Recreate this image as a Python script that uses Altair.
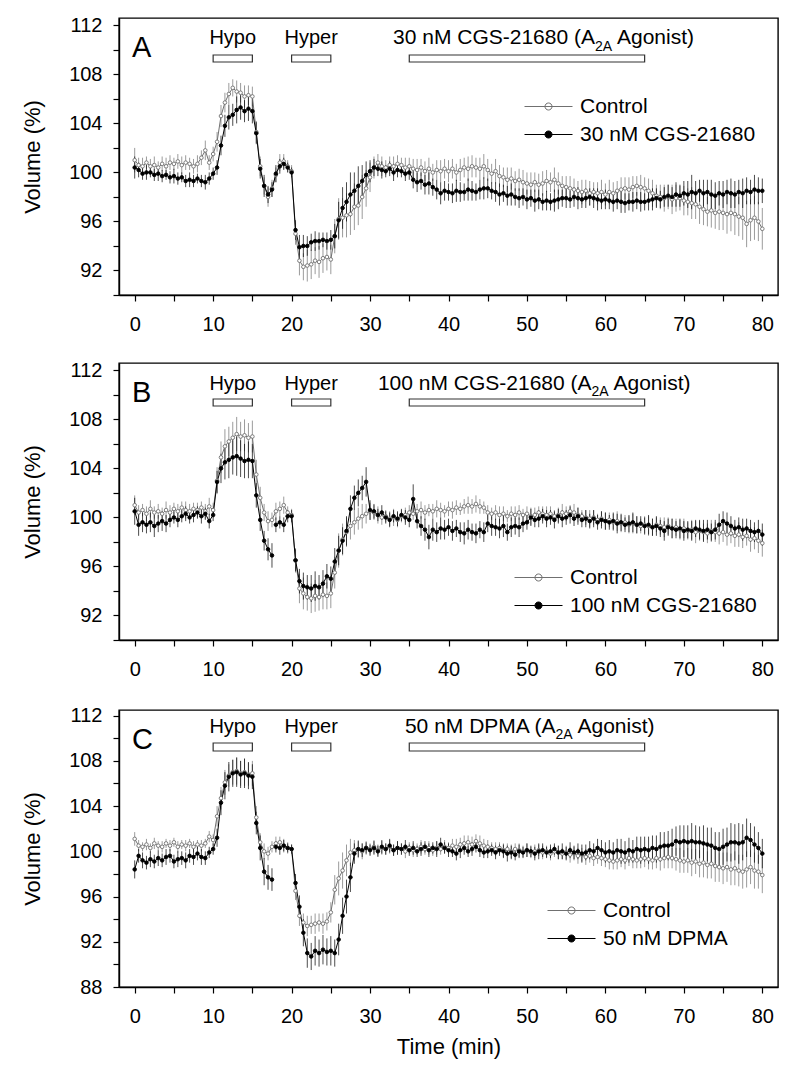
import altair as alt
import pandas as pd

FONT = "Liberation Sans"

# sampling grid (min)
TIME = [i * 0.5 for i in range(161)]

# ---------------- Panel A ----------------
ctlA = [101.0,100.6,100.5,100.8,100.5,100.6,100.4,100.7,100.5,100.8,
        100.7,100.9,100.6,100.8,100.7,100.5,100.7,101.2,101.8,100.8,
        101.5,102.5,104.6,105.7,106.4,106.9,106.6,106.5,106.2,106.3,
        106.2,103.3,100.5,98.9,98.0,98.7,99.8,100.8,100.9,100.5,
        100.1,95.0,92.8,92.3,92.4,92.5,92.8,92.7,93.0,93.1,
        92.9,94.8,96.2,96.3,96.5,96.6,97.2,97.3,98.0,98.7,
        99.6,100.4,100.8,100.5,100.4,100.6,100.5,100.7,100.6,100.4,
        100.5,100.3,100.2,100.4,100.1,100.3,100.0,100.2,100.1,100.3,
        100.1,100.3,100.0,100.2,100.4,100.3,100.5,100.4,100.3,100.5,
        100.2,99.9,100.1,99.7,99.6,99.4,99.5,99.3,99.4,99.2,
        99.1,99.0,99.2,99.0,99.1,99.3,99.2,99.4,99.1,98.9,
        98.8,98.7,98.6,98.5,98.4,98.5,98.3,98.4,98.3,98.4,
        98.2,98.4,98.3,98.5,98.6,98.7,98.6,98.8,98.9,98.8,
        98.7,98.5,98.3,98.1,98.0,97.9,98.0,97.8,97.9,97.9,
        97.7,97.6,97.5,97.4,97.2,97.0,96.8,96.9,96.7,96.8,
        96.7,96.6,96.7,96.6,96.4,96.3,95.8,96.1,96.3,96.0,
        95.4]
trtA = [100.4,100.2,99.9,100.0,100.0,99.8,99.9,99.7,99.8,99.6,
        99.7,99.5,99.6,99.3,99.4,99.3,99.5,99.3,99.2,99.5,
        99.9,100.4,102.2,103.8,104.5,104.7,105.1,105.3,105.0,105.2,
        105.0,103.2,100.3,98.9,98.2,98.6,99.9,100.5,100.7,100.4,
        100.0,95.3,93.9,94.0,94.0,94.3,94.4,94.4,94.5,94.4,
        94.5,94.8,96.1,97.1,97.6,98.2,98.5,98.9,99.3,99.8,
        100.1,100.4,100.3,100.2,100.1,100.3,100.0,100.2,100.1,99.9,
        100.0,99.4,99.2,99.3,99.0,99.1,98.8,98.6,98.3,98.5,
        98.4,98.3,98.5,98.4,98.4,98.6,98.5,98.4,98.6,98.7,
        98.7,98.5,98.4,98.2,98.3,98.1,98.2,98.0,97.9,98.0,
        97.8,97.9,97.7,97.8,97.6,97.7,97.6,97.7,97.8,97.9,
        97.9,97.8,98.0,97.9,97.8,97.9,98.0,97.9,97.8,97.7,
        97.8,97.7,97.6,97.7,97.6,97.5,97.6,97.6,97.7,97.6,
        97.6,97.7,97.8,97.9,97.8,98.0,98.1,98.0,98.2,98.1,
        98.3,98.2,98.4,98.3,98.5,98.3,98.4,98.2,98.1,98.3,
        98.2,98.4,98.3,98.2,98.4,98.3,98.5,98.4,98.6,98.5,
        98.5]
errCtlA = [1.0,0.6,0.7,0.5,0.6,0.7,0.5,0.6,0.7,0.6,
           0.5,0.6,0.7,0.6,0.5,0.6,0.7,0.6,0.8,0.6,
           0.6,0.8,0.9,0.8,0.9,0.7,0.9,0.8,0.9,0.8,
           0.8,0.9,0.8,0.7,0.8,0.7,0.6,0.7,0.6,0.5,
           0.5,0.9,1.2,1.1,1.3,1.2,1.1,1.3,1.2,1.1,
           1.2,1.4,1.7,1.6,1.8,1.7,1.9,1.6,1.8,1.5,
           1.2,0.9,0.7,0.8,0.6,0.7,0.8,0.7,0.6,0.8,
           0.7,0.8,0.9,0.7,0.8,0.9,0.7,0.8,0.9,0.8,
           0.9,0.8,0.7,0.9,0.8,1.0,0.9,0.8,0.9,1.0,
           0.9,0.8,1.0,0.9,0.8,1.0,0.9,0.8,0.9,1.0,
           0.9,1.0,0.8,0.9,1.0,0.9,0.8,1.0,0.9,0.8,
           0.9,1.0,0.9,0.8,1.0,0.9,1.0,0.8,0.9,1.0,
           0.9,1.0,0.9,0.8,1.0,0.9,1.0,0.9,0.8,1.0,
           0.9,1.0,1.1,0.9,1.0,1.1,1.0,1.2,1.1,1.0,
           1.2,1.1,1.3,1.2,1.4,1.3,1.2,1.4,1.3,1.5,
           1.4,1.6,1.5,1.7,1.6,1.8,1.9,1.7,1.8,1.6,
           1.7]
errTrtA = [0.9,0.6,0.5,0.6,0.4,0.5,0.6,0.5,0.4,0.5,
           0.6,0.5,0.4,0.5,0.6,0.5,0.4,0.5,0.6,0.5,
           0.5,0.6,0.8,0.9,1.0,0.9,1.1,1.0,0.9,1.0,
           1.0,0.9,0.8,0.9,0.7,0.6,0.7,0.6,0.5,0.4,
           0.4,0.8,1.0,0.9,0.8,0.7,0.8,0.7,0.6,0.7,
           0.8,1.0,1.5,1.7,1.6,1.8,1.5,1.6,1.3,1.1,
           0.9,0.7,0.6,0.7,0.5,0.6,0.7,0.6,0.5,0.6,
           0.6,0.7,0.8,0.7,0.8,0.9,0.7,0.8,0.9,0.8,
           0.7,0.8,0.9,0.8,0.7,0.9,0.8,0.7,0.8,0.9,
           0.8,0.7,0.8,0.9,0.7,0.8,0.9,0.7,0.8,0.7,
           0.8,0.7,0.9,0.8,0.7,0.8,0.7,0.9,0.8,0.7,
           0.8,0.7,0.8,0.9,0.7,0.8,0.7,0.8,0.9,0.7,
           0.8,0.7,0.8,0.7,0.9,0.8,0.7,0.8,0.7,0.8,
           0.7,0.8,0.9,0.8,0.7,0.8,0.9,0.8,1.0,0.9,
           1.0,1.1,1.4,1.0,0.9,1.1,1.0,1.2,1.1,1.0,
           1.1,1.0,1.2,1.1,1.0,1.2,1.1,1.0,1.2,1.1,
           1.0]

# ---------------- Panel B ----------------
ctlB = [101.0,100.4,100.6,100.3,100.7,100.4,100.5,100.3,100.6,100.4,
        100.7,100.5,100.8,100.6,100.5,100.7,100.6,100.8,100.5,100.9,
        100.6,103.0,104.9,105.8,106.2,106.5,106.8,106.6,106.7,106.5,
        106.6,103.5,101.6,100.4,99.7,99.8,100.5,100.7,101.0,100.4,
        100.2,96.5,94.2,93.8,93.5,93.4,93.6,93.5,93.7,93.6,
        93.8,95.5,97.3,98.2,98.8,99.3,99.6,99.9,100.1,100.3,
        100.5,100.4,100.2,100.0,100.1,99.9,100.0,99.8,100.1,100.2,
        100.4,100.3,100.5,100.6,100.4,100.6,100.5,100.7,100.6,100.5,
        100.7,100.6,100.8,100.7,100.9,101.0,100.9,101.1,100.9,100.8,
        100.4,100.3,100.4,100.2,100.3,100.1,100.3,100.2,100.4,100.2,
        100.3,100.1,100.2,100.4,100.3,100.2,100.3,100.1,100.2,100.4,
        100.3,100.5,100.4,100.2,100.1,100.0,99.9,100.0,99.8,99.9,
        99.7,99.8,99.6,99.7,99.5,99.6,99.4,99.5,99.4,99.3,
        99.4,99.3,99.2,99.4,99.3,99.2,99.3,99.1,99.2,99.0,
        99.1,98.9,99.0,98.8,98.9,98.8,98.7,98.9,98.8,98.7,
        98.8,98.6,98.7,98.5,98.6,98.4,98.5,98.2,98.3,98.1,
        97.9]
trtB = [100.5,99.4,99.6,99.4,99.6,99.3,99.5,99.7,99.5,99.8,
        100.0,99.8,100.1,100.3,100.0,100.2,100.4,100.1,100.3,99.7,
        100.2,102.9,104.0,104.5,104.7,104.9,105.0,104.8,104.6,104.7,
        104.6,101.8,99.8,98.1,97.4,96.9,99.4,99.6,99.4,100.1,
        100.1,96.5,94.8,94.4,94.3,94.2,94.4,94.3,94.6,95.2,
        95.0,96.4,97.3,98.1,98.9,100.7,101.6,102.0,102.4,102.9,
        100.6,100.5,100.2,100.4,100.0,99.8,100.1,99.9,100.2,100.0,
        99.8,101.5,99.7,99.3,99.0,98.4,99.0,98.8,99.1,99.0,
        99.2,98.9,99.1,98.8,98.7,99.0,98.8,98.7,99.0,98.8,
        99.5,99.3,99.2,99.1,99.3,98.8,99.2,99.3,99.2,99.5,
        99.6,100.0,99.8,99.9,100.1,99.9,100.0,99.8,100.1,99.9,
        100.0,100.2,99.9,100.1,99.8,99.9,99.7,99.9,99.6,99.8,
        99.7,99.6,99.7,99.5,99.6,99.4,99.5,99.6,99.4,99.5,
        99.3,99.4,99.2,99.3,99.1,98.9,99.2,99.1,99.0,99.1,
        98.9,99.0,98.9,99.1,99.0,98.9,99.0,98.8,99.0,99.4,
        99.7,99.5,99.3,99.1,99.2,99.0,99.1,98.9,98.8,98.9,
        98.6]
errCtlB = [0.8,0.6,0.5,0.6,0.7,0.5,0.6,0.5,0.7,0.6,
           0.5,0.6,0.5,0.7,0.6,0.5,0.6,0.5,0.6,0.7,
           0.6,1.1,1.3,1.4,1.2,1.3,1.4,1.2,1.3,1.2,
           1.3,1.2,0.9,0.7,0.8,0.6,0.7,0.6,0.7,0.5,
           0.5,1.0,1.2,1.3,1.1,1.2,1.3,1.1,1.2,1.1,
           1.2,1.3,1.4,1.3,1.2,1.1,1.0,0.9,1.0,0.8,
           0.7,0.6,0.7,0.6,0.5,0.6,0.7,0.6,0.5,0.6,
           0.6,0.5,0.6,0.7,0.6,0.5,0.6,0.7,0.6,0.5,
           0.6,0.7,0.6,0.5,0.6,0.7,0.6,0.7,0.6,0.5,
           0.6,0.5,0.6,0.7,0.6,0.5,0.6,0.7,0.6,0.5,
           0.6,0.7,0.6,0.5,0.6,0.7,0.6,0.5,0.6,0.7,
           0.6,0.5,0.7,0.6,0.5,0.6,0.7,0.6,0.5,0.6,
           0.7,0.6,0.7,0.8,0.7,0.6,0.7,0.8,0.7,0.6,
           0.7,0.8,0.7,0.6,0.7,0.8,0.7,0.8,0.7,0.8,
           0.8,0.7,0.8,0.9,0.8,0.7,0.8,0.9,0.8,0.9,
           0.8,0.9,0.8,0.9,1.0,0.9,0.8,1.0,0.9,1.0,
           1.1]
errTrtB = [1.1,0.9,0.8,0.7,0.8,0.9,0.7,0.8,0.7,0.6,
           0.5,0.6,0.5,0.6,0.5,0.6,0.5,0.6,0.5,0.6,
           0.5,0.9,1.2,1.4,1.5,1.4,1.6,1.5,1.4,1.5,
           1.4,1.0,0.9,0.8,0.9,1.0,0.6,0.5,0.6,0.5,
           0.5,0.9,1.0,1.1,1.0,1.1,1.2,1.0,1.1,1.0,
           1.0,1.1,1.2,1.1,1.2,1.1,1.0,1.1,1.0,1.2,
           0.8,0.6,0.5,0.6,0.5,0.6,0.5,0.6,0.5,0.6,
           0.6,1.2,0.6,0.8,0.9,1.0,0.9,0.8,0.9,0.8,
           0.7,0.8,0.7,0.8,0.9,0.8,0.7,0.8,0.7,0.8,
           0.7,0.8,0.7,0.8,0.9,0.7,0.8,0.7,0.8,0.7,
           0.6,0.7,0.6,0.7,0.6,0.7,0.6,0.7,0.6,0.7,
           0.6,0.7,0.6,0.7,0.6,0.7,0.6,0.7,0.6,0.7,
           0.7,0.6,0.7,0.8,0.7,0.6,0.7,0.8,0.7,0.6,
           0.7,0.8,0.7,0.8,0.7,0.8,0.7,0.8,0.7,0.8,
           0.8,0.7,0.8,0.7,0.8,0.9,0.8,0.7,0.8,0.9,
           0.8,0.9,0.8,0.7,0.8,0.9,0.8,0.9,0.8,0.9,
           0.9]

# ---------------- Panel C ----------------
ctlC = [101.1,100.5,100.4,100.6,100.3,100.7,100.5,100.4,100.7,100.5,
        100.8,100.4,100.6,100.5,100.7,100.4,100.6,100.5,100.7,101.3,
        101.0,103.1,104.7,106.1,106.7,107.0,107.1,106.9,107.0,106.8,
        106.9,103.0,100.8,100.0,99.8,100.4,100.7,100.8,100.5,100.3,
        100.2,96.5,94.3,93.7,93.4,93.5,93.6,93.7,93.6,93.8,
        94.6,96.6,97.6,98.3,99.2,99.9,100.1,100.2,100.0,100.3,
        100.2,100.4,100.1,100.3,100.2,100.4,100.1,100.3,100.2,100.0,
        100.3,100.1,100.2,100.4,100.2,100.3,100.1,100.3,100.2,100.4,
        100.3,100.5,100.4,100.6,100.7,100.8,100.6,100.9,100.7,100.5,
        100.4,100.3,100.2,100.3,100.1,100.2,100.0,100.2,100.1,100.0,
        100.1,99.9,100.0,100.1,99.9,100.0,99.8,100.0,99.9,99.8,
        99.9,99.7,99.8,99.6,99.7,99.5,99.6,99.4,99.5,99.4,
        99.3,99.2,99.1,99.2,99.3,99.2,99.4,99.3,99.2,99.3,
        99.4,99.3,99.2,99.4,99.3,99.4,99.5,99.4,99.3,99.2,
        99.1,99.2,99.0,99.1,98.9,99.0,98.8,98.9,98.7,98.6,
        98.5,98.6,98.4,98.5,98.3,98.2,98.4,98.6,98.3,98.2,
        97.9]
trtC = [98.4,99.6,99.2,99.0,99.3,99.1,99.4,99.2,99.5,99.6,
        99.1,99.3,99.4,99.2,99.6,99.5,99.8,99.5,99.4,99.9,
        100.2,101.2,104.3,105.8,106.6,106.9,107.0,106.8,106.9,106.7,
        106.6,102.5,100.3,98.2,97.7,97.5,100.4,100.3,100.5,100.3,
        100.2,97.2,95.1,92.8,91.0,90.7,91.2,91.0,91.3,91.1,
        91.2,91.0,92.2,94.3,96.0,97.7,99.8,100.2,100.1,100.3,
        100.1,100.3,100.0,100.4,100.2,100.5,100.1,100.3,100.2,100.4,
        100.1,100.3,100.0,100.2,100.4,100.1,100.3,100.2,100.6,100.3,
        100.1,100.0,99.8,100.1,100.3,100.0,100.2,100.4,100.1,99.9,
        100.0,100.1,99.9,100.1,100.0,99.8,99.9,99.7,100.0,99.9,
        100.1,100.0,99.8,100.0,100.1,99.9,100.0,100.2,99.9,100.0,
        99.8,100.1,99.9,100.0,99.8,99.9,100.1,100.0,100.3,100.1,
        99.9,100.0,99.9,100.1,100.0,99.9,100.1,100.0,100.2,100.1,
        100.2,100.1,100.3,100.2,100.4,100.5,100.5,100.6,100.9,100.8,
        100.9,100.8,100.9,100.8,100.8,100.7,100.6,100.5,100.3,100.2,
        100.4,100.6,100.8,100.8,100.7,100.8,101.2,101.0,100.6,100.3,
        99.8]
errCtlC = [0.6,0.5,0.4,0.5,0.4,0.5,0.4,0.5,0.4,0.5,
           0.4,0.5,0.4,0.5,0.4,0.5,0.4,0.5,0.4,0.5,
           0.5,0.9,1.0,1.1,1.0,1.1,1.2,1.1,1.2,1.0,
           1.1,1.0,0.8,0.7,0.6,0.5,0.6,0.5,0.6,0.5,
           0.4,0.8,0.9,0.8,0.9,0.8,0.9,0.8,0.9,0.8,
           0.9,1.3,1.5,1.6,1.4,1.2,0.9,0.8,0.7,0.6,
           0.5,0.6,0.5,0.6,0.5,0.6,0.5,0.6,0.5,0.6,
           0.5,0.6,0.5,0.6,0.5,0.6,0.5,0.6,0.5,0.6,
           0.5,0.6,0.7,0.6,0.7,0.6,0.7,0.6,0.7,0.6,
           0.6,0.5,0.6,0.5,0.6,0.5,0.6,0.5,0.6,0.5,
           0.6,0.5,0.6,0.5,0.6,0.5,0.6,0.5,0.6,0.5,
           0.6,0.7,0.6,0.7,0.6,0.7,0.6,0.7,0.6,0.7,
           0.7,0.8,0.7,0.8,0.7,0.8,0.7,0.8,0.7,0.8,
           0.8,0.9,0.8,0.9,1.0,0.9,1.0,0.9,1.0,1.1,
           1.0,1.1,1.2,1.1,1.2,1.3,1.2,1.3,1.4,1.3,
           1.4,1.3,1.4,1.5,1.4,1.5,1.6,1.5,1.6,1.5,
           1.6]
errTrtC = [0.8,0.6,0.7,0.6,0.7,0.6,0.7,0.6,0.7,0.6,
           0.6,0.7,0.6,0.7,0.6,0.7,0.6,0.7,0.6,0.5,
           0.5,0.8,1.1,1.2,1.3,1.2,1.3,1.2,1.3,1.2,
           1.1,1.0,1.1,1.2,1.1,1.0,0.5,0.6,0.5,0.4,
           0.4,0.8,1.0,1.2,1.3,1.2,1.3,1.2,1.3,1.2,
           1.3,1.2,1.4,1.6,1.5,1.3,0.9,0.7,0.6,0.5,
           0.5,0.6,0.5,0.6,0.5,0.6,0.5,0.6,0.5,0.6,
           0.5,0.6,0.5,0.6,0.5,0.6,0.5,0.7,0.6,0.5,
           0.6,0.5,0.6,0.7,0.6,0.5,0.6,0.5,0.6,0.5,
           0.6,0.5,0.6,0.5,0.6,0.7,0.6,0.5,0.6,0.5,
           0.6,0.5,0.6,0.7,0.6,0.5,0.6,0.5,0.6,0.7,
           0.6,0.7,0.6,0.7,0.8,0.7,0.8,0.7,0.8,0.9,
           0.9,1.0,0.9,1.0,1.1,1.0,1.1,1.0,1.1,1.2,
           1.1,1.2,1.1,1.2,1.3,1.2,1.3,1.4,1.3,1.5,
           1.4,1.5,1.6,1.5,1.4,1.6,1.5,1.6,1.4,1.5,
           1.6,1.5,1.7,1.6,1.8,1.6,1.7,1.5,1.6,1.4,
           1.3]

PERIOD_LABELS = ["Hypo", "Hyper"]
PERIOD_START = [10, 20]
PERIOD_END = [15, 25]
DRUG_START, DRUG_END = 35, 65

PANELS = [
    dict(letter="A", ctl_label="Control", trt_label="30 nM CGS-21680",
         drug="30 nM CGS-21680 (A", ctl=ctlA, trt=trtA, ctl_err=errCtlA, trt_err=errTrtA,
         gap=None, ydom=[90, 112.6], yticks=list(range(90, 113, 2)),
         leg=(419, 78), text_y=26, bar=(37, 44), drug_x=476, xtitle=None),
    dict(letter="B", ctl_label="Control ", trt_label="100 nM CGS-21680",
         drug="100 nM CGS-21680 (A", ctl=ctlB, trt=trtB, ctl_err=errCtlB, trt_err=errTrtB,
         gap=17.5, ydom=[90, 112.6], yticks=list(range(90, 113, 2)),
         leg=(409, 204), text_y=26.5, bar=(36, 43), drug_x=472.5, xtitle=None),
    dict(letter="C", ctl_label="Control  ", trt_label="50 nM DPMA",
         drug="50 nM DPMA (A", ctl=ctlC, trt=trtC, ctl_err=errCtlC, trt_err=errTrtC,
         gap=17.5, ydom=[88, 112.5], yticks=list(range(88, 113, 2)),
         leg=(442, 190), text_y=22.5, bar=(33, 41), drug_x=436.5, xtitle="Time (min)"),
]

SYMBOL = "M-3,0H3M0.44,0A0.44,0.44 0 1,1 -0.44,0A0.44,0.44 0 1,1 0.44,0Z"


def make_panel(p):
    rows = []
    for name, vals, errs in [(p["ctl_label"], p["ctl"], p["ctl_err"]),
                             (p["trt_label"], p["trt"], p["trt_err"])]:
        assert len(vals) == len(TIME) and len(errs) == len(TIME)
        for t, v, e in zip(TIME, vals, errs):
            seg = 1 if (p["gap"] is not None and name == p["trt_label"] and t > p["gap"]) else 0
            rows.append(dict(t=t, v=v, e=e, series=name, seg=f"{name}-{seg}"))
    df = pd.DataFrame(rows)
    order = [p["ctl_label"], p["trt_label"]]

    xs = alt.Scale(domain=[-2, 82], nice=False, zero=False)
    ys = alt.Scale(domain=p["ydom"], nice=False, zero=False)
    xax = alt.Axis(values=list(range(0, 81, 5)),
                   labelExpr="datum.value % 10 == 0 ? datum.label : ''",
                   title=p["xtitle"], labelOverlap=False, labelFlush=False)
    yax = alt.Axis(values=p["yticks"],
                   labelExpr="datum.value % 4 == 0 ? datum.label : ''",
                   title="Volume (%)", labelOverlap=False, labelFlush=False)
    stroke_sc = alt.Scale(domain=order, range=["#707070", "#000000"])
    fill_sc = alt.Scale(domain=order, range=["#ffffff", "#000000"])
    leg = alt.Legend(title=None, orient="none", legendX=p["leg"][0], legendY=p["leg"][1],
                     symbolType=SYMBOL, symbolSize=256, symbolStrokeWidth=1,
                     symbolOpacity=1, labelFont=FONT, labelFontSize=21, labelColor="black",
                     labelOffset=21, labelLimit=0, rowPadding=6, padding=0)

    X = alt.X("t:Q", scale=xs, axis=xax)
    stroke = alt.Stroke("series:N", scale=stroke_sc, legend=leg, sort=order)
    fill = alt.Fill("series:N", scale=fill_sc, legend=leg, sort=order)

    base = alt.Chart(df)
    err = base.mark_rule(strokeWidth=1, opacity=0.7).transform_calculate(
        lo="datum.v - datum.e", hi="datum.v + datum.e"
    ).encode(x=X, y=alt.Y("lo:Q", scale=ys, axis=yax), y2="hi:Q", stroke=stroke)
    line = base.mark_line(strokeWidth=1).encode(
        x=X, y=alt.Y("v:Q", scale=ys, axis=yax), stroke=stroke, detail="seg:N")
    pts = base.mark_point(shape="circle", size=13, strokeWidth=0.9, opacity=1).encode(
        x=X, y=alt.Y("v:Q", scale=ys, axis=yax), stroke=stroke, fill=fill)

    per = pd.DataFrame({"label": PERIOD_LABELS + [""], "start": PERIOD_START + [DRUG_START],
                        "end": PERIOD_END + [DRUG_END]})
    bars = alt.Chart(per).mark_rect(fill="white", stroke="#333333", strokeWidth=1.2).encode(
        x=alt.X("start:Q", scale=xs, axis=xax), x2="end:Q",
        y=alt.value(p["bar"][0]), y2=alt.value(p["bar"][1]))
    labs = alt.Chart(per).transform_filter("datum.label != ''").transform_calculate(
        mid="(datum.start + datum.end) / 2"
    ).mark_text(font=FONT, fontSize=20, align="center", baseline="alphabetic", color="black").encode(
        x=alt.X("mid:Q", scale=xs, axis=xax), y=alt.value(p["text_y"]), text="label:N")

    dtxt = pd.DataFrame({"main": [p["drug"]], "sub": ["2A"], "tail": ["Agonist)"],
                         "letter": [p["letter"]]})
    dbase = alt.Chart(dtxt)
    main = dbase.mark_text(font=FONT, fontSize=21, align="right", baseline="alphabetic",
                           color="black").encode(
        x=alt.value(p["drug_x"]), y=alt.value(p["text_y"]), text="main:N")
    sub = dbase.mark_text(font=FONT, fontSize=14, align="left", baseline="alphabetic",
                          color="black").encode(
        x=alt.value(p["drug_x"]), y=alt.value(p["text_y"] + 6.7), text="sub:N")
    tail = dbase.mark_text(font=FONT, fontSize=21, align="left", baseline="alphabetic",
                           color="black").encode(
        x=alt.value(p["drug_x"] + 22), y=alt.value(p["text_y"]), text="tail:N")
    letter = dbase.mark_text(font=FONT, fontSize=29, align="left", baseline="alphabetic",
                             color="black").encode(
        x=alt.value(13), y=alt.value(38.5), text="letter:N")

    return alt.layer(err, line, pts, bars, labs, main, sub, tail, letter).properties(
        width=659, height=277)


chart = alt.vconcat(*[make_panel(p) for p in PANELS], spacing=24).resolve_scale(
    x="independent", y="independent", stroke="independent", fill="independent"
).resolve_legend(stroke="independent", fill="independent").properties(
    padding={"left": 12, "top": 6, "right": 5, "bottom": 5}
).configure_view(stroke="black", strokeWidth=1.4).configure_axis(
    domainColor="black", tickColor="black", labelColor="black", titleColor="black",
    labelFont=FONT, titleFont=FONT, labelFontSize=20, titleFontSize=22,
    titleFontWeight="normal", grid=False, tickSize=6, domainWidth=1.4, tickWidth=1.2
).configure_axisX(labelPadding=13, titlePadding=10).configure_axisY(
    labelPadding=11, titlePadding=24)

chart.save("out.html", embed_options={"renderer": "svg", "actions": False})
